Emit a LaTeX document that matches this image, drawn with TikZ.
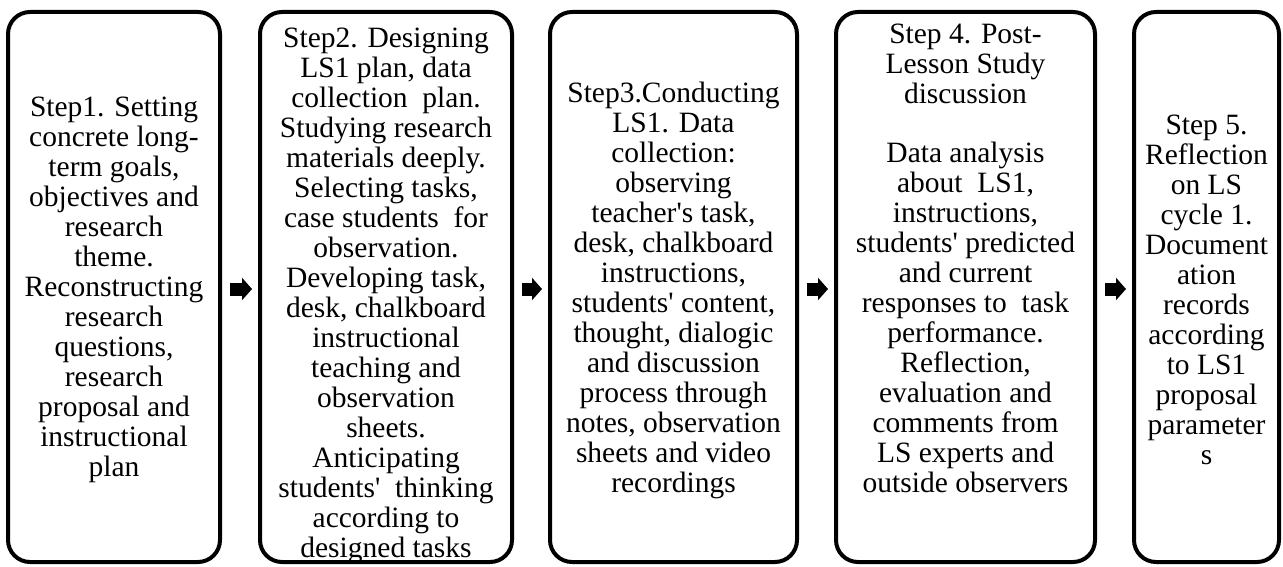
\documentclass[tikz,border=0pt]{standalone}
\usepackage{fontspec}
\setmainfont{Liberation Serif}
\usetikzlibrary{arrows.meta}
\tikzset{
  stepbox/.style={draw=black, line width=4pt, rounded corners=22pt, minimum height=550pt, inner sep=0pt, outer sep=0pt, fill=white},
  steptext/.style={align=center, inner sep=0pt, font=\rmfamily\fontsize{29.5pt}{30pt}\selectfont},
  flow/.style={line width=13pt, -{Triangle[length=10pt,width=22pt]}, shorten <=10pt, shorten >=8pt}
}
\begin{document}
\begin{tikzpicture}[x=1pt,y=1pt]
\useasboundingbox (0,0) rectangle (1283,566);
\fill[white] (0,0) rectangle (1283,566);
% boxes
\node[stepbox, minimum width=212pt] (b1) at (114,279) {};
\node[stepbox, minimum width=252pt] (b2) at (386,279) {};
\node[stepbox, minimum width=247pt] (b3) at (673.5,279) {};
\node[stepbox, minimum width=259pt] (b4) at (965.5,279) {};
\node[stepbox, minimum width=145pt] (b5) at (1206.5,279) {};
% texts
\node[steptext] (t1) at (114,276) {Step1. Setting\\concrete long-\\term goals,\\objectives and\\research\\theme.\\Reconstructing\\research\\questions,\\research\\proposal and\\instructional\\plan};
\node[steptext] (t2) at (386,270) {Step2. Designing\\LS1 plan, data\\collection~ plan.\\Studying research\\materials deeply.\\Selecting tasks,\\case students~ for\\observation.\\Developing task,\\desk, chalkboard\\instructional\\teaching and\\observation\\sheets.\\Anticipating\\students\textquotesingle~ thinking\\according to\\designed tasks};
\node[steptext] (t3) at (673.5,276) {Step3.Conducting\\LS1. Data\\collection:\\observing\\teacher\textquotesingle s task,\\desk, chalkboard\\instructions,\\students\textquotesingle\ content,\\thought, dialogic\\and discussion\\process through\\notes, observation\\sheets and video\\recordings};
\node[steptext] (t4) at (965.5,307.5) {Step 4. Post-\\Lesson Study\\discussion\\[29pt]Data analysis\\about~ LS1,\\instructions,\\students\textquotesingle\ predicted\\and current\\responses to~ task\\performance.\\Reflection,\\evaluation and\\comments from\\LS experts and\\outside observers};
\node[steptext] (t5) at (1206.5,276) {Step 5.\\Reflection\\on LS\\cycle 1.\\Document\\ation\\records\\according\\to LS1\\proposal\\parameter\\s};
% arrows
\draw[flow] ([yshift=-2pt]b1.east) -- ([yshift=-2pt]b2.west);
\draw[flow] ([yshift=-2pt]b2.east) -- ([yshift=-2pt]b3.west);
\draw[flow] ([yshift=-2pt]b3.east) -- ([yshift=-2pt]b4.west);
\draw[flow] ([yshift=-2pt]b4.east) -- ([yshift=-2pt]b5.west);
\end{tikzpicture}
\end{document}
